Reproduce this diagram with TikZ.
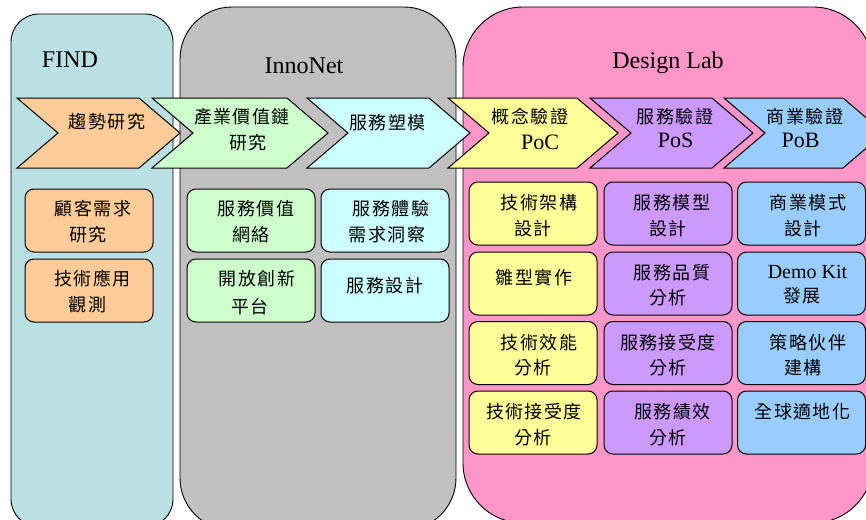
\documentclass[tikz,border=0pt]{standalone}
\usepackage{fontspec}
\setmainfont{Liberation Serif}
\newfontfamily\cjk[LetterSpace=8]{Noto Sans CJK TC}
\definecolor{findc}{RGB}{187,224,227}
\definecolor{innoc}{RGB}{192,192,192}
\definecolor{labc}{RGB}{255,150,200}
\definecolor{orc}{RGB}{255,204,153}
\definecolor{grc}{RGB}{204,255,204}
\definecolor{cyc}{RGB}{204,255,255}
\definecolor{yec}{RGB}{255,255,153}
\definecolor{puc}{RGB}{204,153,255}
\definecolor{blc}{RGB}{153,204,255}
\newcommand\mychev[3]{%
  \draw[chev, fill=#3] (#1,98) -- ({#1+#2-41},98) -- ({#1+#2},133) -- ({#1+#2-41},168) -- (#1,168) -- ({#1+41},133) -- cycle;}
\tikzset{
  panel/.style={draw=black, line width=0.9pt},
  chev/.style={draw=black, line width=1pt},
  box/.style={draw=black, line width=1pt, rounded corners=9pt, minimum width=128pt, minimum height=63pt, inner sep=0pt},
  ct/.style={font=\cjk\fontsize{18}{20}\selectfont, inner sep=0pt},
  lt/.style={font=\fontsize{22}{24}\selectfont, inner sep=0pt},
  dk/.style={font=\fontsize{20}{22}\selectfont, inner sep=0pt},
  ttl/.style={font=\fontsize{24}{28}\selectfont, inner sep=0pt, anchor=base}
}
\begin{document}
\begin{tikzpicture}[x=1pt, y=-1pt]
\useasboundingbox (0,0) rectangle (866,519);
\clip (0,0) rectangle (866,519);
\fill[white] (0,0) rectangle (866,519);
% panels
\draw[panel, fill=findc, rounded corners=28pt] (11,14) rectangle (173,527);
\draw[panel, fill=innoc, rounded corners=52pt] (180,7) rectangle (456,530);
\draw[panel, fill=labc, rounded corners=60pt] (463,7) rectangle (873,523);
% titles
\node[ttl] (tfind) at (70,67) {FIND};
\node[ttl] (tinno) at (304,74) {InnoNet};
\node[ttl] (tlab) at (668,68) {Design Lab};
% chevrons
\mychev{17}{163}{orc}
\mychev{152}{176}{grc}
\mychev{307}{163}{cyc}
\mychev{448}{170}{yec}
\mychev{590}{163}{puc}
\mychev{724}{160}{blc}
\node[ct] (c1) at (107,122) {趨勢研究};
\node[ct] (c2a) at (242,117) {產業價值鏈};
\node[ct] (c2b) at (248,143) {研究};
\node[ct] (c3) at (387.5,123) {服務塑模};
\node[ct] (c4a) at (530,117) {概念驗證};
\node[lt] (c4b) at (540,142.5) {PoC};
\node[ct] (c5a) at (675,117) {服務驗證};
\node[lt] (c5b) at (675.5,140) {PoS};
\node[ct] (c6a) at (805,117) {商業驗證};
\node[lt] (c6b) at (800.5,140) {PoB};
% FIND boxes
\node[box, fill=orc] (f1) at (89,220.5) {};
\node[box, fill=orc] (f2) at (89,290.5) {};
\node[ct] at (93,209) {顧客需求};
\node[ct] at (88,235) {研究};
\node[ct] at (92.5,279) {技術應用};
\node[ct] at (87.5,305) {觀測};
% InnoNet boxes
\node[box, fill=grc] (i1) at (251,220.5) {};
\node[box, fill=cyc] (i2) at (385,220.5) {};
\node[box, fill=grc] (i3) at (251,290.5) {};
\node[box, fill=cyc] (i4) at (385,290.5) {};
\node[ct] at (256,209) {服務價值};
\node[ct] at (251,235) {網絡};
\node[ct] at (391,209) {服務體驗};
\node[ct] at (387,235) {需求洞察};
\node[ct] at (257,279) {開放創新};
\node[ct] at (250,307) {平台};
\node[ct] at (385,286) {服務設計};
% Design Lab boxes
\foreach \r/\y in {1/213.5, 2/283.5, 3/353, 4/422.5}{
  \node[box, fill=yec] (y\r) at (533,\y) {};
  \node[box, fill=puc] (p\r) at (668,\y) {};
  \node[box, fill=blc] (b\r) at (801.5,\y) {};
}
\node[ct] at (539,203) {技術架構};
\node[ct] at (533,229) {設計};
\node[ct] at (672,203) {服務模型};
\node[ct] at (668,229) {設計};
\node[ct] at (808,203) {商業模式};
\node[ct] at (803,229) {設計};
\node[ct] at (534,278) {雛型實作};
\node[ct] at (672,273) {服務品質};
\node[ct] at (668,298) {分析};
\node[dk] at (807.5,271.5) {Demo Kit};
\node[ct] at (802,296) {發展};
\node[ct] at (539,343) {技術效能};
\node[ct] at (533,368) {分析};
\node[ct] at (668,343) {服務接受度};
\node[ct] at (668,368) {分析};
\node[ct] at (808,343) {策略伙伴};
\node[ct] at (803,368) {建構};
\node[ct] at (534,412) {技術接受度};
\node[ct] at (533,438) {分析};
\node[ct] at (672.5,412) {服務績效};
\node[ct] at (668,438) {分析};
\node[ct] at (802.5,412) {全球適地化};
\end{tikzpicture}
\end{document}
